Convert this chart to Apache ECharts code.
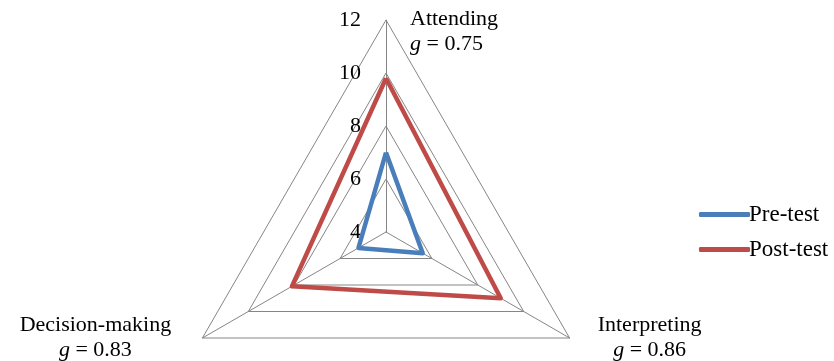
<!DOCTYPE html>
<html lang="en">
<head>
    <meta charset="UTF-8">
    <title>Radar</title>
    <script src="https://cdn.jsdelivr.net/npm/echarts@6/dist/echarts.min.js"></script>
    <style>
        body { margin: 0; background: #fff; }
    </style>
</head>
<body>
<div id="container" style="width: 834px;height: 361px"></div>
<script>
// 数据 (order follows radar: top, bottom-left, bottom-right)
var skills = ['Attending', 'Decision-making', 'Interpreting'];
var gains = ['0.75', '0.83', '0.86'];
var preTest = [7.0, 5.2, 5.6];
var postTest = [9.8, 8.1, 9.0];
var axisMin = 4;
var axisMax = 12;

var font = 'Liberation Serif';
var grey = '#868686';

// name label placement per axis
var namePad = [
    { padding: [24, 0, 0, 24], align: 'left', verticalAlign: 'middle' },
    { padding: [0, 214, 0, 0], align: 'center', verticalAlign: 'middle' },
    { padding: [0, 0, 0, 160], align: 'center', verticalAlign: 'middle' }
];

var chart = echarts.init(document.getElementById('container'));

chart.setOption({
    backgroundColor: '#ffffff',
    animation: false,
    legend: {
        orient: 'vertical',
        left: 694,
        top: 198,
        itemWidth: 51,
        itemHeight: 5,
        itemGap: 12,
        icon: 'roundRect',
        textStyle: { fontFamily: font, fontSize: 23, color: '#000', padding: [0, 0, 0, -6] },
        data: ['Pre-test', 'Post-test']
    },
    radar: {
        center: [386, 232],
        radius: 212,
        shape: 'polygon',
        splitNumber: 4,
        axisNameGap: 0,
        axisName: {
            color: '#000',
            fontFamily: font,
            fontSize: 22,
            lineHeight: 25,
            formatter: function (name) {
                var i = skills.indexOf(name);
                return name + '\n{g|g} = ' + gains[i];
            },
            rich: {
                g: { fontStyle: 'italic', fontFamily: font, fontSize: 22, color: '#000' }
            }
        },
        splitArea: { show: false },
        splitLine: { lineStyle: { color: grey, width: 1 } },
        axisLine: { lineStyle: { color: grey, width: 1 } },
        axisLabel: { show: false },
        indicator: skills.map(function (s, i) {
            var ind = {
                name: s,
                min: axisMin,
                max: axisMax,
                nameMoveOverlap: false,
                nameTextStyle: namePad[i]
            };
            if (i === 0) {
                ind.axisLabel = {
                    show: true,
                    color: '#000',
                    fontFamily: font,
                    fontSize: 22,
                    margin: 25
                };
            }
            return ind;
        })
    },
    series: [{
        type: 'radar',
        symbol: 'none',
        data: [
            {
                name: 'Pre-test',
                value: preTest,
                lineStyle: { color: '#4a7ebb', width: 4.5 },
                itemStyle: { color: '#4a7ebb' }
            },
            {
                name: 'Post-test',
                value: postTest,
                lineStyle: { color: '#be4b48', width: 4.5 },
                itemStyle: { color: '#be4b48' }
            }
        ]
    }]
});
</script>
</body>
</html>
